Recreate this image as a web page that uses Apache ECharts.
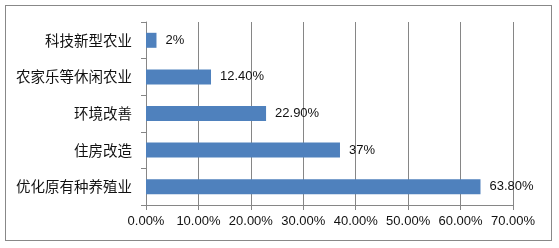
<!DOCTYPE html>
<html><head><meta charset="utf-8">
<script src="https://cdn.jsdelivr.net/npm/echarts@6/dist/echarts.min.js"></script>
<style>
html,body{margin:0;padding:0;background:#fff;}
#wrap{position:absolute;left:5px;top:5px;width:547px;height:236px;border:1px solid #888;box-sizing:border-box;}
#c{position:absolute;left:0;top:0;width:559px;height:248px;}
</style></head>
<body>
<div id="wrap"></div>
<div id="c"></div>
<script>
const categories = ['科技新型农业','农家乐等休闲农业','环境改善','住房改造','优化原有种养殖业'];
const values = [2, 12.4, 22.9, 37, 63.8];
const valueLabels = ['2%','12.40%','22.90%','37%','63.80%'];

const chart = echarts.init(document.getElementById('c'), null, {renderer:'canvas'});
chart.setOption({
  animation:false,
  backgroundColor:'transparent',
  grid:{left:146,right:46,top:22,bottom:43,containLabel:false},
  xAxis:{
    type:'value',min:0,max:70,interval:10,
    axisLine:{show:true,lineStyle:{color:'#868686',width:1}},
    axisTick:{show:true,length:5,lineStyle:{color:'#868686'}},
    splitLine:{show:true,lineStyle:{color:'#868686',width:1}},
    axisLabel:{margin:10,color:'#111',fontSize:13,fontFamily:'"Liberation Sans", Arial, sans-serif',
      formatter:v=>v.toFixed(2)+'%'}
  },
  yAxis:{
    type:'category',data:categories,inverse:true,
    axisLine:{show:true,lineStyle:{color:'#868686',width:1}},
    axisTick:{show:true,length:5,alignWithLabel:false,lineStyle:{color:'#868686'}},
    axisLabel:{margin:14,color:'#111',fontSize:14.5,fontFamily:'"Noto Sans CJK SC", sans-serif'}
  },
  series:[{
    type:'bar',data:values,barWidth:15,
    itemStyle:{color:'#4F81BD'},
    label:{show:true,position:'right',distance:9,color:'#111',fontSize:13,
      fontFamily:'"Liberation Sans", Arial, sans-serif',
      formatter:p=>valueLabels[p.dataIndex]}
  }]
});
</script>
</body></html>
